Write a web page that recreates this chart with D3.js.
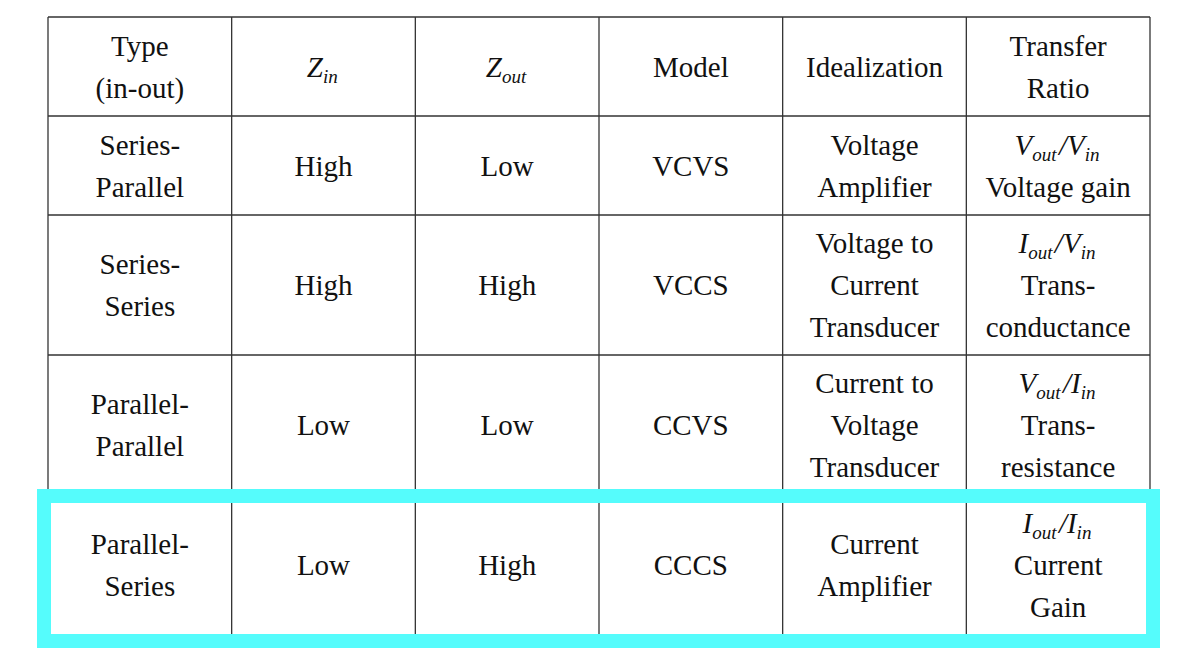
<!DOCTYPE html>
<html>
<head>
<meta charset="utf-8">
<script src="https://cdn.jsdelivr.net/npm/d3@7"></script>
<style>
  body { margin: 0; background: #fff; }
  text { font-family: 'Liberation Serif', 'Times New Roman', serif; fill: #111; }
</style>
</head>
<body>
<svg id="chart"></svg>
<script>
// cells: "_x" = subscript, "*" prefix = italic math token
const headers = [['Type', '(in-out)'], ['*Z_in'], ['*Z_out'], ['Model'], ['Idealization'], ['Transfer', 'Ratio']]
const types = [['Series-', 'Parallel'], ['Series-', 'Series'], ['Parallel-', 'Parallel'], ['Parallel-', 'Series']]
const zin = ['High', 'High', 'Low', 'Low']
const zout = ['Low', 'High', 'Low', 'High']
const models = ['VCVS', 'VCCS', 'CCVS', 'CCCS']
const ideal = [['Voltage', 'Amplifier'], ['Voltage to', 'Current', 'Transducer'], ['Current to', 'Voltage', 'Transducer'], ['Current', 'Amplifier']]
const ratio = [['*V_out/V_in', 'Voltage gain'], ['*I_out/V_in', 'Trans-', 'conductance'], ['*V_out/I_in', 'Trans-', 'resistance'], ['*I_out/I_in', 'Current', 'Gain']]
const highlightRow = 3

const W = 1197, H = 662
const tblLeft = 48, tblRight = 1150, tblTop = 17
const lineH = 42
const fontSize = 29

const svg = d3.select('#chart').attr('width', W).attr('height', H)

const rows = [headers].concat(types.map((t, i) => [t, [zin[i]], [zout[i]], [models[i]], ideal[i], ratio[i]]))
const rowH = rows.map(r => d3.max(r, c => c.length) <= 2 ? 99 : 140)
const rowY = [tblTop]
rowH.forEach((h, i) => rowY.push(rowY[i] + h))

const x = d3.scaleBand().domain(d3.range(headers.length)).range([tblLeft, tblRight])

const g = svg.append('g')

// grid
g.selectAll('line.h').data(rowY).join('line')
  .attr('x1', tblLeft).attr('x2', tblRight).attr('y1', d => d).attr('y2', d => d)
  .attr('stroke', '#333').attr('stroke-width', 1.3)
g.selectAll('line.v').data(d3.range(headers.length + 1)).join('line')
  .attr('x1', d => tblLeft + d * x.bandwidth()).attr('x2', d => tblLeft + d * x.bandwidth())
  .attr('y1', tblTop).attr('y2', rowY[rowY.length - 1])
  .attr('stroke', '#333').attr('stroke-width', 1.3)

// text
function writeLine(textSel, s) {
  if (s[0] !== '*') { textSel.text(s); return }
  const parts = s.slice(1).split('/')
  parts.forEach((p, k) => {
    if (k > 0) textSel.append('tspan').attr('font-style', 'italic').text('/')
    const [base, sub] = p.split('_')
    textSel.append('tspan').attr('font-style', 'italic').text(base)
    if (sub) {
      textSel.append('tspan').attr('font-style', 'italic').attr('font-size', 19).attr('dy', 6).text(sub)
      textSel.append('tspan').attr('dy', -6).text('\u200a')
    }
  })
}

rows.forEach((r, ri) => {
  const cy = rowY[ri] + rowH[ri] / 2
  r.forEach((cell, ci) => {
    const cx = x(ci) + x.bandwidth() / 2
    cell.forEach((s, li) => {
      const t = g.append('text')
        .attr('x', cx)
        .attr('y', cy + (li - (cell.length - 1) / 2) * lineH + fontSize * 0.35)
        .attr('text-anchor', 'middle')
        .attr('font-size', fontSize)
      writeLine(t, s)
    })
  })
})

// highlight box
svg.append('rect')
  .attr('x', 44).attr('y', rowY[highlightRow + 1] + 1)
  .attr('width', 1153 - 44).attr('height', 641 - rowY[highlightRow + 1] - 1)
  .attr('fill', 'none').attr('stroke', '#55fcfc').attr('stroke-width', 14)
</script>
</body>
</html>
